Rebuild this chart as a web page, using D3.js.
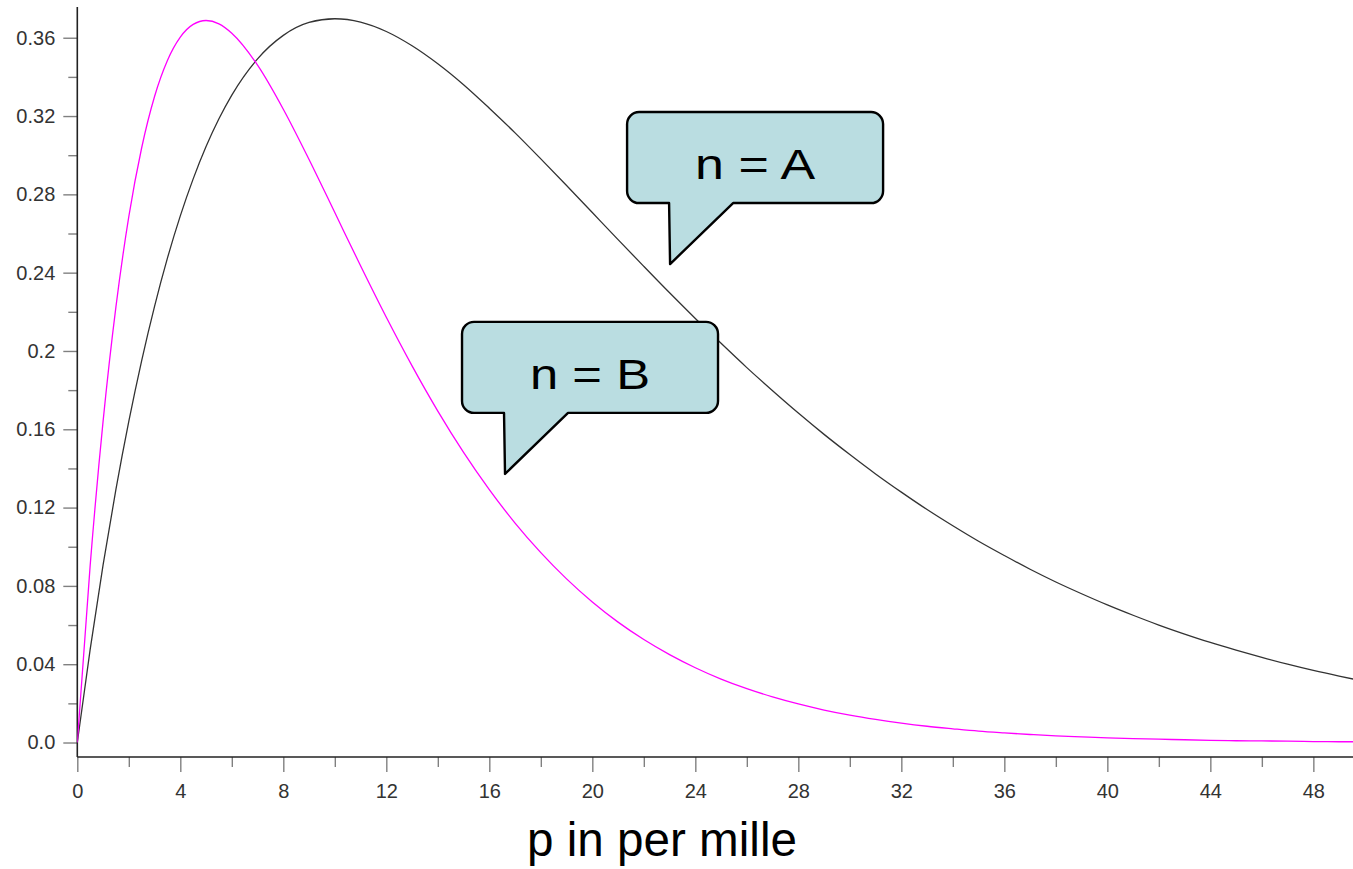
<!DOCTYPE html>
<html>
<head>
<meta charset="utf-8">
<script src="https://cdn.jsdelivr.net/npm/d3@7/dist/d3.min.js"></script>
<style>
  html, body { margin: 0; padding: 0; background: #fff; }
  svg { display: block; }
</style>
</head>
<body>
<div id="chart"></div>
<script>
// p in per mille, finer steps near the peaks
var pValues = [0, 0.5, 1, 1.5, 2, 2.5, 3, 3.5, 4, 4.5, 5, 5.5, 6,
    7, 8, 9, 10, 11, 12, 13, 14, 15, 16, 17, 18, 19, 20,
    21, 22, 23, 24, 25, 26, 27, 28, 29, 30, 31, 32, 33, 34, 35,
    36, 37, 38, 39, 40, 41, 42, 43, 44, 45, 46, 47, 48, 49, 50];

// n = A (black)
var seriesA = [0, 0.0476, 0.0906, 0.1293, 0.1640, 0.1951, 0.2228, 0.2474, 0.2690, 0.2879, 0.3044, 0.3186, 0.3307,
    0.3492, 0.3612, 0.3678, 0.3697, 0.3680, 0.3632, 0.3559, 0.3467, 0.3360, 0.3240, 0.3114, 0.2981, 0.2845, 0.2707,
    0.2569, 0.2432, 0.2297, 0.2166, 0.2039, 0.1915, 0.1797, 0.1683, 0.1574, 0.1471, 0.1372, 0.1279, 0.1190, 0.1107, 0.1028,
    0.0955, 0.0885, 0.0820, 0.0760, 0.0703, 0.0650, 0.0600, 0.0554, 0.0511, 0.0472, 0.0435, 0.0400, 0.0368, 0.0339, 0.0312];

// n = B (magenta)
var seriesB = [0, 0.0905, 0.1639, 0.2225, 0.2686, 0.3038, 0.3300, 0.3484, 0.3603, 0.3668, 0.3688, 0.3671, 0.3623,
    0.3460, 0.3235, 0.2978, 0.2707, 0.2435, 0.2172, 0.1924, 0.1693, 0.1482, 0.1292, 0.1121, 0.0970, 0.0836, 0.0718,
    0.0615, 0.0526, 0.0449, 0.0382, 0.0324, 0.0275, 0.0233, 0.0197, 0.0166, 0.0140, 0.0118, 0.0099, 0.0083, 0.0070, 0.0058,
    0.0049, 0.0041, 0.0034, 0.0029, 0.0024, 0.0020, 0.0017, 0.0014, 0.0011, 0.0009, 0.0008, 0.0007, 0.0005, 0.0004, 0.0004];

var xMajorTicks = [0, 4, 8, 12, 16, 20, 24, 28, 32, 36, 40, 44, 48];
var xMinorTicks = [2, 6, 10, 14, 18, 22, 26, 30, 34, 38, 42, 46];
var yMajorTicks = [0, 0.04, 0.08, 0.12, 0.16, 0.2, 0.24, 0.28, 0.32, 0.36];
var yMinorTicks = [0.02, 0.06, 0.1, 0.14, 0.18, 0.22, 0.26, 0.3, 0.34];

// callouts: label and where the tail points, in data units
var calloutLabels = ["n = A", "n = B"];
var calloutTipP = [23.02, 16.61];
var calloutTipY = [0.2444, 0.1372];

var width = 1353, height = 869;

var svg = d3.select("#chart").append("svg")
    .attr("width", width)
    .attr("height", height)
    .style("font-family", "'Liberation Sans', Arial, sans-serif");

var x = d3.scaleLinear().domain([0, 49.54]).range([77.3, 1353]);
var y = d3.scaleLinear().domain([-0.0074, 0.3757]).range([757, 7]);

svg.append("clipPath").attr("id", "plotclip")
    .append("rect")
    .attr("x", x.range()[0]).attr("y", y.range()[1])
    .attr("width", x.range()[1] - x.range()[0])
    .attr("height", y.range()[0] - y.range()[1]);

var fmtY = function(v) { return v === 0 ? "0.0" : String(+v.toFixed(2)); };

// axes
var gx = svg.append("g").attr("transform", "translate(0," + y.range()[0] + ")");
gx.append("g").call(d3.axisBottom(x).tickValues(xMinorTicks).tickSize(10).tickFormat(""));
gx.append("g").call(d3.axisBottom(x).tickValues(xMajorTicks).tickSize(15).tickPadding(12).tickFormat(d3.format("d")));

var gy = svg.append("g").attr("transform", "translate(" + x.range()[0] + ",0)");
gy.append("g").call(d3.axisLeft(y).tickValues(yMinorTicks).tickSize(9).tickFormat(""));
gy.append("g").call(d3.axisLeft(y).tickValues(yMajorTicks).tickSize(14).tickPadding(8).tickFormat(fmtY));

svg.selectAll(".domain").remove();
svg.selectAll(".tick line").attr("stroke", "#808080").attr("stroke-width", 1.4);
svg.selectAll(".tick text").attr("fill", "#333").style("font-size", "20px")
    .style("font-family", "'Liberation Sans', Arial, sans-serif");

svg.append("line")
    .attr("x1", x.range()[0]).attr("x2", x.range()[1])
    .attr("y1", y.range()[0]).attr("y2", y.range()[0])
    .attr("stroke", "#222").attr("stroke-width", 1.6);
svg.append("line")
    .attr("x1", x.range()[0]).attr("x2", x.range()[0])
    .attr("y1", y.range()[1]).attr("y2", y.range()[0])
    .attr("stroke", "#222").attr("stroke-width", 1.6);

// curves
var plot = svg.append("g").attr("clip-path", "url(#plotclip)");
var line = d3.line()
    .x(function(d) { return x(d[0]); })
    .y(function(d) { return y(d[1]); })
    .curve(d3.curveMonotoneX);

plot.append("path")
    .datum(d3.zip(pValues, seriesA))
    .attr("d", line)
    .attr("fill", "none")
    .attr("stroke", "#333")
    .attr("stroke-width", 1.3);

plot.append("path")
    .datum(d3.zip(pValues, seriesB))
    .attr("d", line)
    .attr("fill", "none")
    .attr("stroke", "#ff00ff")
    .attr("stroke-width", 1.3);

// speech bubbles
function bubblePath(tx, ty) {
    var l = tx - 43, r = tx + 213, t = ty - 152, b = ty - 61, rad = 12;
    var p = d3.path();
    p.moveTo(l + rad, t);
    p.lineTo(r - rad, t);
    p.arcTo(r, t, r, t + rad, rad);
    p.lineTo(r, b - rad);
    p.arcTo(r, b, r - rad, b, rad);
    p.lineTo(tx + 63, b);
    p.lineTo(tx, ty);
    p.lineTo(tx - 1, b);
    p.lineTo(l + rad, b);
    p.arcTo(l, b, l, b - rad, rad);
    p.lineTo(l, t + rad);
    p.arcTo(l, t, l + rad, t, rad);
    p.closePath();
    return p.toString();
}

calloutLabels.forEach(function(label, i) {
    var tx = x(calloutTipP[i]), ty = y(calloutTipY[i]);
    var g = svg.append("g");
    g.append("path")
        .attr("d", bubblePath(tx, ty))
        .attr("fill", "#badde1")
        .attr("stroke", "#000")
        .attr("stroke-width", 2.4)
        .attr("stroke-linejoin", "round");
    g.append("text")
        .attr("x", tx + 85)
        .attr("y", ty - 85)
        .attr("text-anchor", "middle")
        .attr("textLength", 120)
        .attr("lengthAdjust", "spacingAndGlyphs")
        .style("font-size", "42px")
        .attr("fill", "#000")
        .text(label);
});

// x axis title
svg.append("text")
    .attr("x", 662)
    .attr("y", 856)
    .attr("text-anchor", "middle")
    .attr("textLength", 270)
    .attr("lengthAdjust", "spacingAndGlyphs")
    .style("font-size", "48px")
    .attr("fill", "#000")
    .text("p in per mille");
</script>
</body>
</html>
